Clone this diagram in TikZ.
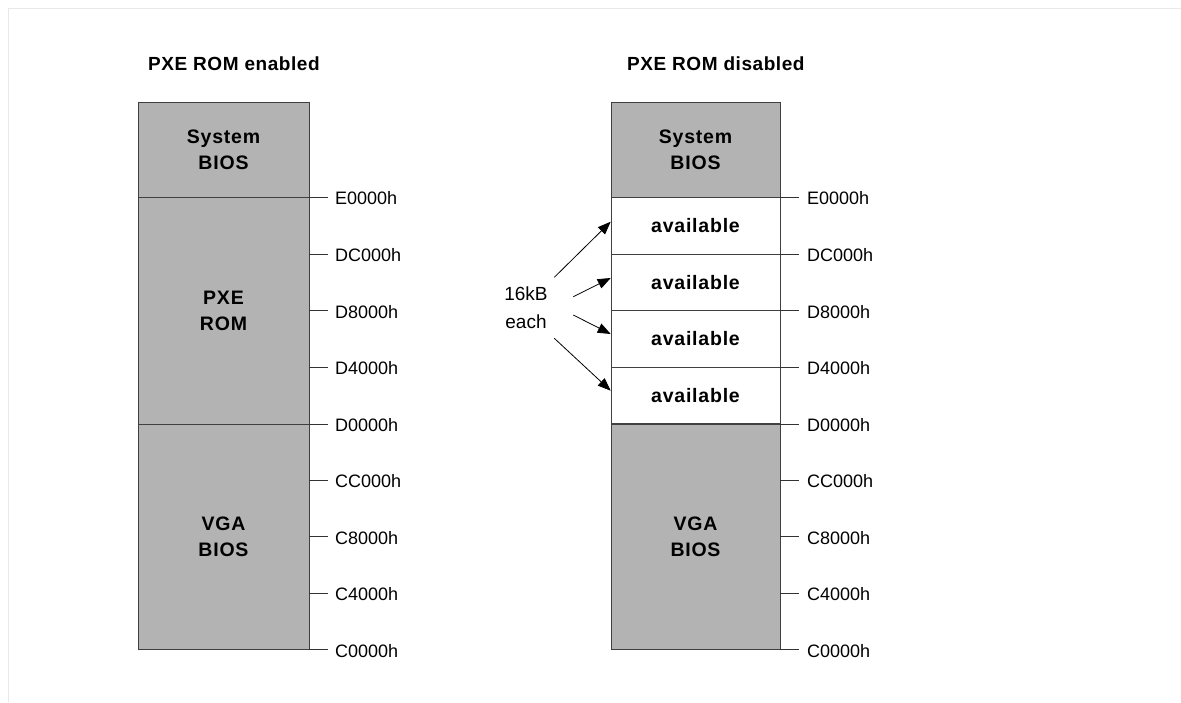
\documentclass[tikz,border=0pt]{standalone}
\usepackage{fontspec}
\setmainfont{Liberation Sans}
\newfontfamily\spacedfont[LetterSpace=4]{Liberation Sans}
\newfontfamily\titlefont[LetterSpace=3]{Liberation Sans}
\usetikzlibrary{arrows.meta}
\definecolor{memgray}{HTML}{B3B3B3}
\definecolor{framegray}{HTML}{E8E8E8}
\begin{document}
\begin{tikzpicture}[x=1pt,y=-1pt,
  every node/.style={font=\fontsize{18}{21}\selectfont},
  blk/.style={draw=black!75, line width=1pt, inner sep=0pt, outer sep=0pt, align=center, font=\spacedfont\fontsize{19.5}{26}\selectfont\bfseries},
  grayblk/.style={blk, fill=memgray},
  whiteblk/.style={blk, fill=white},
  tick/.style={draw=black!80, line width=1pt},
  addr/.style={anchor=west, inner sep=0pt},
  title/.style={anchor=west, inner sep=0pt, font=\titlefont\fontsize{19}{21}\selectfont\bfseries},
  arr/.style={draw=black, line width=0.8pt, -{Triangle[length=13pt,width=10pt]}}
]
\useasboundingbox (0,0) rectangle (1181,702);
\draw[framegray, line width=1pt] (8,702) -- (8,8) -- (1181,8);

% titles
\node[title] (t1) at (148,64) {PXE ROM enabled};
\node[title] (t2) at (627,64) {PXE ROM disabled};

% left column
\node[grayblk, minimum width=171pt, minimum height=94.5pt] (lsys) at (223.5,150.2) {System\\BIOS};
\node[grayblk, minimum width=171pt, minimum height=226.7pt] (lpxe) at (223.5,310.7) {PXE\\ROM};
\node[grayblk, minimum width=171pt, minimum height=225.7pt] (lvga) at (223.5,536.85) {VGA\\BIOS};

% right column
\node[grayblk, minimum width=169pt, minimum height=94.5pt] (rsys) at (695.5,150.2) {System\\BIOS};
\node[whiteblk, minimum width=169pt, minimum height=56.7pt] (ra1) at (695.5,225.65) {available};
\node[whiteblk, minimum width=169pt, minimum height=56.7pt] (ra2) at (695.5,282.35) {available};
\node[whiteblk, minimum width=169pt, minimum height=56.6pt] (ra3) at (695.5,339.0) {available};
\node[whiteblk, minimum width=169pt, minimum height=56.6pt] (ra4) at (695.5,395.6) {available};
\node[grayblk, minimum width=169pt, minimum height=225.7pt] (rvga) at (695.5,536.85) {VGA\\BIOS};

% address ticks and labels
\foreach \y/\t [count=\i] in {197.3/E0000h,254/DC000h,310.7/D8000h,367.3/D4000h,424/D0000h,480.3/CC000h,536.7/C8000h,593.3/C4000h,649.7/C0000h}{
  \coordinate (lt\i) at (309,\y);
  \coordinate (lte\i) at (328,\y);
  \draw[tick] (lt\i) -- (lte\i);
  \node[addr] (la\i) at (335,\y+1) {\t};
  \coordinate (rt\i) at (780,\y);
  \coordinate (rte\i) at (799,\y);
  \draw[tick] (rt\i) -- (rte\i);
  \node[addr] (ra\i) at (807,\y+1) {\t};
}

% 16kB each
\node[align=center, inner sep=1pt, font=\fontsize{19}{28}\selectfont] (note) at (526,307.5) {16kB\\each};
\coordinate (s1) at (554.3,277.3);
\coordinate (s2) at (573.3,296.7);
\coordinate (s3) at (573.3,315);
\coordinate (s4) at (554.3,338.3);
\coordinate (e1) at (610.7,221.7);
\coordinate (e2) at (610.7,278);
\coordinate (e3) at (610.7,334);
\coordinate (e4) at (610.7,390.7);
\foreach \i in {1,...,4}{\draw[arr] (s\i) -- (e\i);}
\end{tikzpicture}
\end{document}
